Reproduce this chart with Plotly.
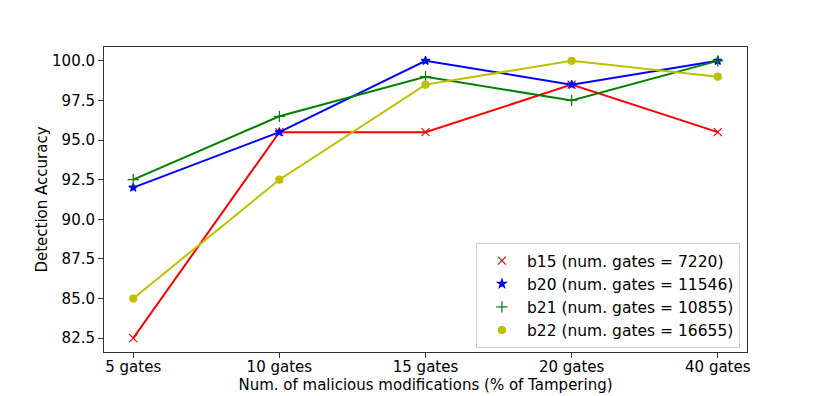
import plotly.graph_objects as go

# data
categories = ['5 gates', '10 gates', '15 gates', '20 gates', '40 gates']
b15 = [82.5, 95.5, 95.5, 98.5, 95.5]
b20 = [92.0, 95.5, 100.0, 98.5, 100.0]
b21 = [92.5, 96.5, 99.0, 97.5, 100.0]
b22 = [85.0, 92.5, 98.5, 100.0, 99.0]

series = [
    ('b15 (num. gates = 7220)', b15, 'red', 'x-thin', 8),
    ('b20 (num. gates = 11546)', b20, 'blue', 'star', 6.5),
    ('b21 (num. gates = 10855)', b21, 'green', 'cross-thin', 8),
    ('b22 (num. gates = 16655)', b22, '#bfbf00', 'circle', 7),
]

fig = go.Figure()
xpos = list(range(len(categories)))
for name, vals, color, sym, size in series:
    # line without legend entry
    fig.add_trace(go.Scatter(x=xpos, y=vals, mode='lines',
                             line=dict(color=color, width=2),
                             showlegend=False, hoverinfo='skip'))
for name, vals, color, sym, size in series:
    fig.add_trace(go.Scatter(x=xpos, y=vals, mode='markers', name=name,
                             marker=dict(symbol=sym, size=size, color=color,
                                         line=dict(color=color, width=1.2))))

axis_common = dict(showline=True, linecolor='#333333', linewidth=1, mirror=True,
                   ticks='outside', ticklen=5, tickcolor='#333333',
                   showgrid=False, zeroline=False,
                   tickfont=dict(family='DejaVu Sans', size=15, color='black'))

# the page body has an 8px margin, so the figure margins are shifted by 8px
fig.update_layout(
    width=830, height=396,
    margin=dict(l=96, r=91, t=39, b=52),
    paper_bgcolor='white', plot_bgcolor='white',
    font=dict(family='DejaVu Sans', size=15, color='black'),
    xaxis=dict(range=[-0.2, 4.2], tickvals=xpos, ticktext=categories,
               ticklabelstandoff=-4,
               title=dict(text='Num. of malicious modifications (% of Tampering)',
                          standoff=0, font=dict(size=15)),
               **axis_common),
    yaxis=dict(range=[81.625, 100.875], tickvals=[82.5, 85, 87.5, 90, 92.5, 95, 97.5, 100],
               ticktext=['82.5', '85.0', '87.5', '90.0', '92.5', '95.0', '97.5', '100.0'],
               title=dict(text='Detection Accuracy', standoff=0, font=dict(size=15)),
               **axis_common),
    legend=dict(x=0.989, y=0.013, xanchor='right', yanchor='bottom',
                bgcolor='white', bordercolor='#d0d0d0', borderwidth=1,
                font=dict(size=15.5), itemwidth=40),
)

fig.write_html("out.html")
